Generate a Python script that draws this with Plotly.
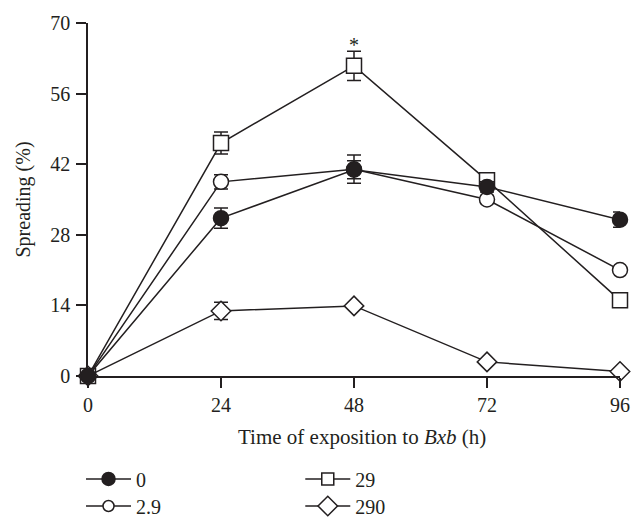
import plotly.graph_objects as go

hours = [0, 24, 48, 72, 96]

# spreading (%) per Bxb concentration
s0 = [0, 31.3, 40.9, 37.5, 31.0]
s0_err = [0, 2.0, 1.8, 1.0, 1.5]
s2_9 = [0, 38.5, 41.0, 35.0, 21.0]
s2_9_err = [0, 1.4, 2.8, 0.8, 0]
s29 = [0, 46.2, 61.5, 38.8, 15.0]
s29_err = [0, 2.2, 2.9, 1.2, 0]
s290 = [0, 12.9, 13.9, 2.8, 0.9]
s290_err = [0, 1.7, 0.5, 0.4, 0]

ink = "#231f20"
font = "Liberation Serif"


def series(name, y, err, symbol, fill):
    return go.Scatter(
        x=hours, y=y, name=name, mode="lines+markers", showlegend=False,
        cliponaxis=False,
        line=dict(color=ink, width=1.5),
        marker=dict(symbol=symbol, size=15, color=fill,
                    line=dict(color=ink, width=1.5)),
        error_y=dict(type="data", array=err, color=ink, thickness=1.5, width=7),
    )


def key(name, symbol, fill, size, legend):
    # legend-only entry, smaller marker than in the plot
    return go.Scatter(
        x=[None], y=[None], name=name, mode="lines+markers", legend=legend,
        line=dict(color=ink, width=1.5),
        marker=dict(symbol=symbol, size=size, color=fill,
                    line=dict(color=ink, width=1.5)),
    )


fig = go.Figure()
fig.add_trace(series("2.9", s2_9, s2_9_err, "circle", "white"))
fig.add_trace(series("29", s29, s29_err, "square", "white"))
fig.add_trace(series("290", s290, s290_err, "diamond", "white"))
fig.add_trace(series("0", s0, s0_err, "circle", ink))

fig.add_trace(key("0", "circle", ink, 13, "legend"))
fig.add_trace(key("2.9", "circle", "white", 11, "legend2"))
fig.add_trace(key("29", "square", "white", 12, "legend3"))
fig.add_trace(key("290", "diamond", "white", 15, "legend4"))

fig.add_annotation(x=48, y=65.6, text="*", showarrow=False,
                   font=dict(family=font, size=20, color=ink))
fig.add_annotation(x=0.515, y=-0.173, xref="paper", yref="paper", yanchor="middle",
                   text="Time of exposition to <i>Bxb</i> (h)", showarrow=False,
                   font=dict(family=font, size=21, color=ink))

axis_common = dict(showline=True, linecolor=ink, linewidth=1.5, ticks="outside",
                   ticklen=10, tickwidth=1.5, tickcolor=ink, showgrid=False,
                   zeroline=False, automargin=False,
                   tickfont=dict(family=font, size=20, color=ink))

fig.update_xaxes(range=[0, 96], tickvals=hours, **axis_common)
fig.update_yaxes(range=[0, 70], tickvals=[0, 14, 28, 42, 56, 70], ticklabelstandoff=2,
                 **axis_common,
                 title=dict(text="Spreading (%)",
                            font=dict(family=font, size=20, color=ink), standoff=14))


def leg(x, y):
    return dict(x=x, y=y, xref="container", yref="container", xanchor="left",
                yanchor="middle", orientation="h", bgcolor="rgba(0,0,0,0)",
                itemwidth=45, font=dict(family=font, size=20, color=ink))


fig.update_layout(
    width=643, height=526,
    margin=dict(l=88, r=23, t=23, b=150),
    plot_bgcolor="white", paper_bgcolor="white",
    legend=leg(0.126, 0.0894),
    legend2=leg(0.126, 0.038),
    legend3=leg(0.467, 0.0894),
    legend4=leg(0.467, 0.038),
)

fig.write_html("out.html", config={"displayModeBar": False},
               post_script="document.body.style.margin='0';")
